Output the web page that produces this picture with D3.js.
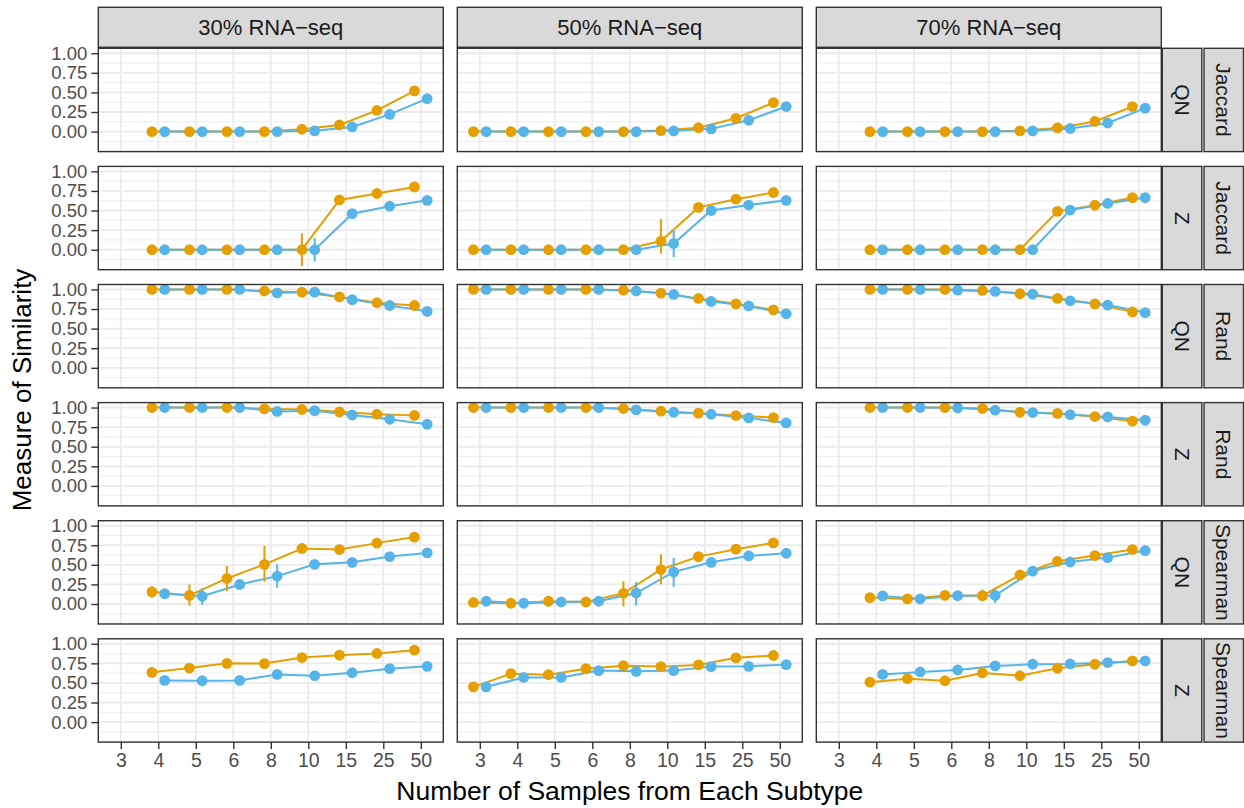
<!DOCTYPE html>
<html>
<head>
<meta charset="utf-8">
<script src="https://cdn.jsdelivr.net/npm/d3@7"></script>
<style>
  body { margin: 0; background: #fff; }
  svg text { font-family: "Liberation Sans", Arial, Helvetica, sans-serif; }
</style>
</head>
<body>
<script>
// facets
var colLabels = ["30% RNA\u2212seq", "50% RNA\u2212seq", "70% RNA\u2212seq"];
var rowNorm = ["QN", "Z", "QN", "Z", "QN", "Z"];
var rowMetric = ["Jaccard", "Jaccard", "Rand", "Rand", "Spearman", "Spearman"];
var xLabels = ["3", "4", "5", "6", "8", "10", "15", "25", "50"];
var yTicks = [0, 0.25, 0.5, 0.75, 1];
var yMinor = [-0.25, -0.125, 0.125, 0.375, 0.625, 0.875];

// values per row, per column (null = no sample size tested)
var orange = [
  [[null,0,0,0,0,0.03,0.085,0.27,0.52], [0,0,0,0,0,0.013,0.05,0.17,0.37], [null,0,0,0,0,0.01,0.047,0.13,0.32]],
  [[null,0,0,0,0,0,0.635,0.717,0.80], [0,0,0,0,0,0.11,0.54,0.645,0.73], [null,0,0,0,0,0,0.49,0.567,0.665]],
  [[null,1,1,1,0.98,0.965,0.905,0.83,0.795], [1,1,1,1,0.99,0.953,0.885,0.816,0.74], [null,1,1,1,0.987,0.945,0.885,0.816,0.714]],
  [[null,1,1,1,0.983,0.975,0.945,0.915,0.90], [1,1,1,1,0.987,0.953,0.928,0.898,0.872], [null,1,1,1,0.987,0.94,0.925,0.885,0.826]],
  [[null,0.155,0.11,0.326,0.506,0.708,0.695,0.777,0.854], [0.02,0.01,0.035,0.026,0.137,0.44,0.605,0.70,0.78], [null,0.082,0.064,0.11,0.107,0.37,0.545,0.618,0.695]],
  [[null,0.635,0.69,0.75,0.747,0.824,0.854,0.876,0.918], [0.45,0.618,0.605,0.682,0.72,0.708,0.73,0.82,0.85], [null,0.51,0.554,0.528,0.627,0.592,0.687,0.738,0.781]]
];
var blue = [
  [[null,0,0,0,0,0.01,0.06,0.22,0.42], [0,0,0,0,0,0.01,0.035,0.145,0.32], [null,0,0,0,0,0.01,0.04,0.11,0.30]],
  [[null,0,0,0,0,0,0.46,0.555,0.63], [0,0,0,0,0,0.08,0.50,0.57,0.63], [null,0,0,0,0,0,0.506,0.59,0.665]],
  [[null,1,1,1,0.957,0.965,0.87,0.795,0.72], [1,1,1,1,0.98,0.936,0.846,0.79,0.69], [null,1,1,0.99,0.975,0.94,0.855,0.80,0.705]],
  [[null,1,1,1,0.95,0.96,0.905,0.85,0.787], [1,1,1,1,0.97,0.94,0.915,0.868,0.804], [null,1,1,0.996,0.966,0.936,0.91,0.88,0.838]],
  [[null,0.133,0.099,0.249,0.356,0.506,0.532,0.605,0.652], [0.035,0.01,0.026,0.035,0.14,0.41,0.532,0.614,0.648], [null,0.103,0.064,0.107,0.11,0.42,0.536,0.592,0.682]],
  [[null,0.532,0.528,0.532,0.609,0.592,0.63,0.682,0.712], [0.45,0.57,0.57,0.657,0.648,0.657,0.708,0.712,0.734], [null,0.609,0.64,0.665,0.717,0.738,0.742,0.76,0.781]]
];
// error bars: [row, col, series (0 orange, 1 blue), x index, low, high]
var errBars = [
  [1,0,0,5,-0.21,0.21], [1,0,1,5,-0.15,0.15],
  [1,1,0,5,-0.05,0.39], [1,1,1,5,-0.095,0.25],
  [4,0,0,1,0.08,0.23], [4,0,0,2,-0.02,0.25], [4,0,0,3,0.163,0.485], [4,0,0,4,0.283,0.74],
  [4,0,1,2,-0.01,0.2], [4,0,1,4,0.206,0.506],
  [4,1,0,4,-0.03,0.29], [4,1,0,5,0.25,0.635], [4,1,1,4,-0.02,0.28], [4,1,1,5,0.22,0.59],
  [4,2,0,4,0.034,0.185], [4,2,1,4,0.013,0.185]
];
var colors = ["#E69F00", "#56B4E9"];

var width = 1244, height = 808;
var panelLeft = 98.3, panelW = 345, colGap = 14;
var panelTop = 48.3, panelH = 103.3, rowGap = 14.8;

var svg = d3.select("body").append("svg")
    .attr("width", width)
    .attr("height", height);

var x = d3.scaleLinear().domain([-0.6, 8.6]).range([0, panelW]);
var y = d3.scaleLinear().domain([-0.255, 1.063]).range([panelH, 0]);
var dodge = 0.17;

var line = d3.line()
    .defined(function(d) { return d.v != null; })
    .x(function(d) { return x(d.i + d.off); })
    .y(function(d) { return y(d.v); });

function seriesPts(vals, off) {
  return vals.map(function(v, i) { return {i: i, v: v, off: off}; });
}

for (var r = 0; r < 6; r++) {
  for (var c = 0; c < 3; c++) {
    var px = panelLeft + c * (panelW + colGap);
    var py = panelTop + r * (panelH + rowGap);
    var g = svg.append("g").attr("transform", "translate(" + px + "," + py + ")");

    g.append("rect").attr("width", panelW).attr("height", panelH).attr("fill", "#fff");

    g.selectAll(".minor").data(yMinor).enter().append("line")
        .attr("x1", 0).attr("x2", panelW)
        .attr("y1", function(d) { return y(d); }).attr("y2", function(d) { return y(d); })
        .attr("stroke", "#EBEBEB").attr("stroke-width", 0.9);
    g.selectAll(".majy").data(yTicks).enter().append("line")
        .attr("x1", 0).attr("x2", panelW)
        .attr("y1", function(d) { return y(d); }).attr("y2", function(d) { return y(d); })
        .attr("stroke", "#EBEBEB").attr("stroke-width", 1.8);
    g.selectAll(".majx").data(xLabels).enter().append("line")
        .attr("y1", 0).attr("y2", panelH)
        .attr("x1", function(d, i) { return x(i); }).attr("x2", function(d, i) { return x(i); })
        .attr("stroke", "#EBEBEB").attr("stroke-width", 1.8);

    var sets = [seriesPts(orange[r][c], -dodge), seriesPts(blue[r][c], dodge)];

    sets.forEach(function(pts, s) {
      g.append("path").datum(pts)
          .attr("d", line)
          .attr("fill", "none")
          .attr("stroke", colors[s])
          .attr("stroke-width", 2);
    });

    errBars.filter(function(e) { return e[0] === r && e[1] === c; }).forEach(function(e) {
      var xx = x(e[3] + (e[2] === 0 ? -dodge : dodge));
      g.append("line")
          .attr("x1", xx).attr("x2", xx)
          .attr("y1", y(e[4])).attr("y2", y(e[5]))
          .attr("stroke", colors[e[2]]).attr("stroke-width", 2);
    });

    sets.forEach(function(pts, s) {
      g.selectAll(".pt" + s).data(pts.filter(function(d) { return d.v != null; }))
        .enter().append("circle")
          .attr("cx", function(d) { return x(d.i + d.off); })
          .attr("cy", function(d) { return y(d.v); })
          .attr("r", 5.4)
          .attr("fill", colors[s]);
    });

    g.append("rect").attr("width", panelW).attr("height", panelH)
        .attr("fill", "none").attr("stroke", "#333333").attr("stroke-width", 1.4);

    // y axis on first column
    if (c === 0) {
      var ya = g.append("g").call(d3.axisLeft(y).tickValues(yTicks)
          .tickFormat(d3.format(".2f")).tickSize(7).tickPadding(4));
      ya.select(".domain").remove();
      ya.selectAll("line").attr("stroke", "#333333").attr("stroke-width", 1.4);
      ya.selectAll("text").attr("fill", "#4D4D4D").style("font-size", "18.5px")
          .attr("font-family", "Liberation Sans, Arial, sans-serif");
    }
    // x axis on bottom row
    if (r === 5) {
      var xa = g.append("g").attr("transform", "translate(0," + panelH + ")")
          .call(d3.axisBottom(x).tickValues(d3.range(9))
          .tickFormat(function(d) { return xLabels[d]; }).tickSize(7).tickPadding(4));
      xa.select(".domain").remove();
      xa.selectAll("line").attr("stroke", "#333333").attr("stroke-width", 1.4);
      xa.selectAll("text").attr("fill", "#4D4D4D").style("font-size", "19.5px")
          .attr("font-family", "Liberation Sans, Arial, sans-serif");
    }

    // top strips
    if (r === 0) {
      svg.append("rect").attr("x", px).attr("y", 7.3).attr("width", panelW).attr("height", 40)
          .attr("fill", "#D9D9D9").attr("stroke", "#333333").attr("stroke-width", 1.4);
      svg.append("text").attr("x", px + panelW / 2).attr("y", 27.3)
          .attr("text-anchor", "middle").attr("dominant-baseline", "central")
          .attr("fill", "#1A1A1A").style("font-size", "22px").text(colLabels[c]);
    }
    // right strips
    if (c === 2) {
      [[rowNorm[r], 1162.3], [rowMetric[r], 1204]].forEach(function(st) {
        svg.append("rect").attr("x", st[1]).attr("y", py).attr("width", 39.5).attr("height", panelH)
            .attr("fill", "#D9D9D9").attr("stroke", "#333333").attr("stroke-width", 1.4);
        var tx = st[1] + 19.75, ty = py + panelH / 2;
        svg.append("text").attr("transform", "translate(" + tx + "," + ty + ") rotate(90)")
            .attr("text-anchor", "middle").attr("dominant-baseline", "central")
            .attr("fill", "#1A1A1A").style("font-size", "21px").text(st[0]);
      });
    }
  }
}

svg.append("text")
    .attr("x", panelLeft + (3 * panelW + 2 * colGap) / 2)
    .attr("y", 800)
    .attr("text-anchor", "middle")
    .attr("fill", "#000")
    .style("font-size", "26.5px")
    .text("Number of Samples from Each Subtype");

svg.append("text")
    .attr("transform", "translate(31," + 390 + ") rotate(-90)")
    .attr("text-anchor", "middle")
    .attr("fill", "#000")
    .style("font-size", "26px")
    .text("Measure of Similarity");
</script>
</body>
</html>
